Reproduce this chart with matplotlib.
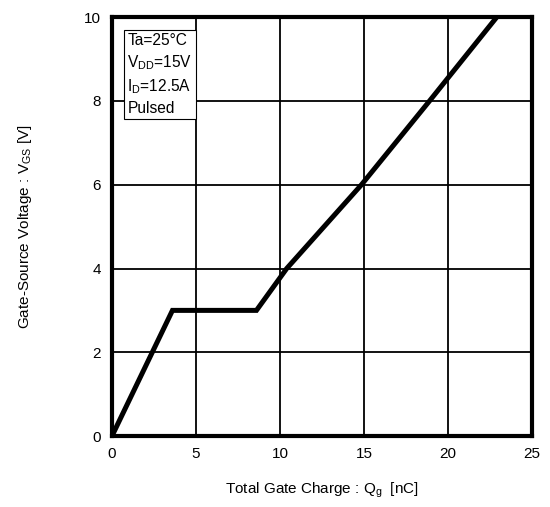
import numpy as np
import matplotlib
matplotlib.use('Agg')
import matplotlib.pyplot as plt

plt.rcParams['font.family'] = ['Liberation Sans', 'DejaVu Sans']
plt.rcParams['mathtext.default'] = 'regular'

# gate charge curve
qg = [0, 3.6, 8.6, 10.4, 14.85, 18.9, 22.9]
vgs = [0, 3.0, 3.0, 4.0, 6.0, 8.0, 10.0]

x_ticks = [0, 5, 10, 15, 20, 25]
y_ticks = [0, 2, 4, 6, 8, 10]

cond_lines = ['Ta=25°C', 'V$_{DD}$=15V', 'I$_{D}$=12.5A', 'Pulsed']

fig = plt.figure(figsize=(5.5, 5.07), dpi=100)
ax = fig.add_axes([0.2036, 0.140, 0.7636, 0.826])

ax.plot(qg, vgs, c='k', lw=3.6, solid_joinstyle='miter', zorder=3)

ax.set_xlim(0, 25)
ax.set_ylim(0, 10)
ax.set_xticks(x_ticks)
ax.set_yticks(y_ticks)
ax.grid(True, c='k', lw=1.3)
ax.tick_params(length=0, labelsize=11, pad=8)

for s in ax.spines.values():
    s.set_linewidth(3)

ax.set_xlabel('Total Gate Charge : Q$_g$  [nC]', fontsize=11, labelpad=14)
ax.set_ylabel('Gate-Source Voltage : V$_{GS}$ [V]', fontsize=11, labelpad=36)

ax.text(0.92, 9.62, '\n'.join(cond_lines), fontsize=11.2, va='top', ha='left',
        linespacing=1.38, zorder=4,
        bbox=dict(boxstyle='square,pad=0.2', fc='white', ec='k', lw=0.8))

fig.savefig('out.png', dpi=100)
